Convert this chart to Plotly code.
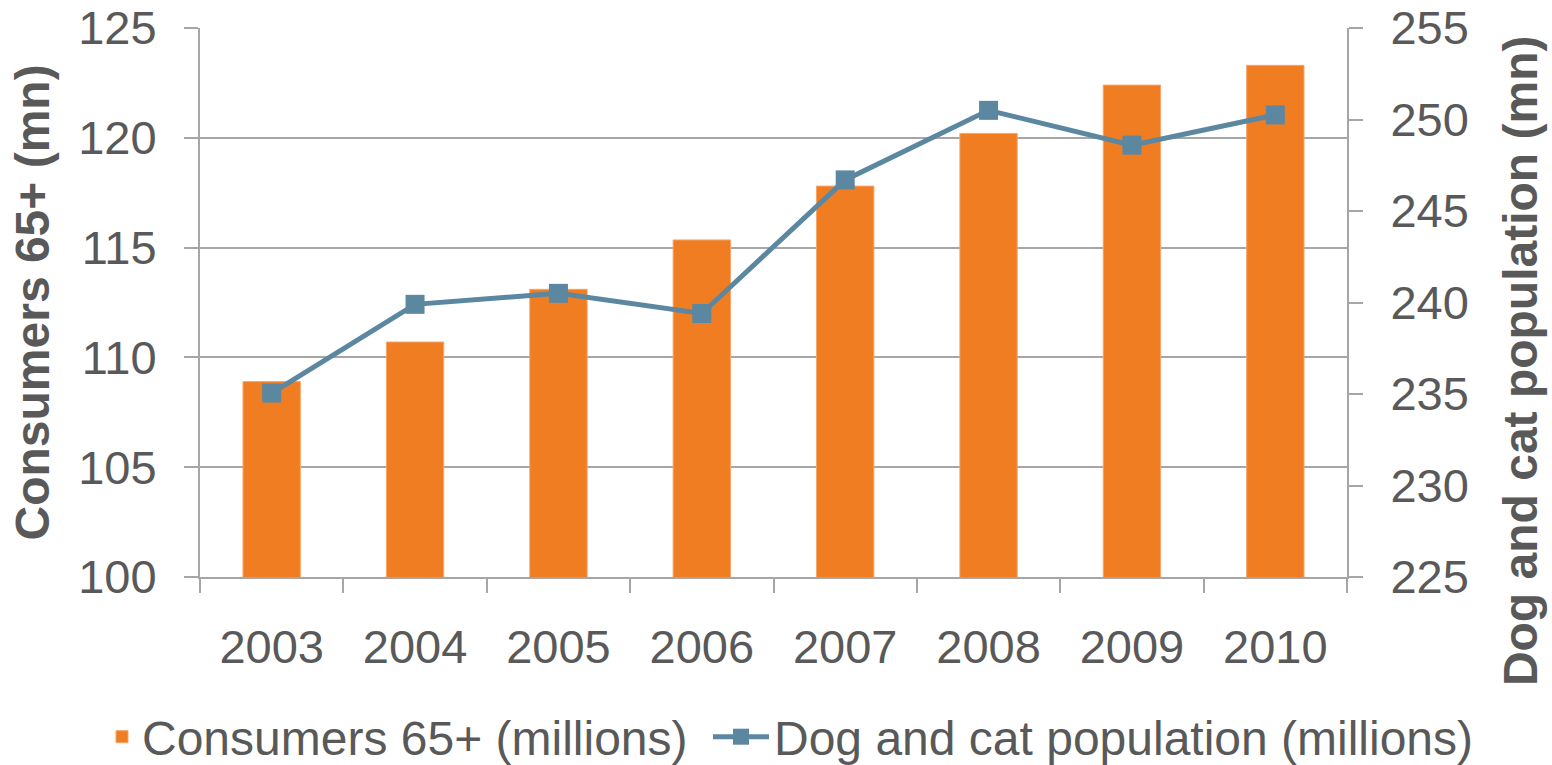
import plotly.graph_objects as go

years = ["2003", "2004", "2005", "2006", "2007", "2008", "2009", "2010"]
consumers_65 = [108.9, 110.7, 113.1, 115.35, 117.8, 120.2, 122.4, 123.3]
dog_cat_pop = [235.05, 239.9, 240.5, 239.4, 246.7, 250.5, 248.6, 250.25]

left_ticks = [100, 105, 110, 115, 120, 125]
right_ticks = [225, 230, 235, 240, 245, 250, 255]

ORANGE = "#F07D22"
BLUE = "#5B87A0"
TEXT = "#595959"
GRID = "#A6A6A6"
FONT = "Liberation Sans, Arial, sans-serif"

fig = go.Figure()
fig.add_trace(go.Bar(
    x=years, y=consumers_65, name="Consumers 65+ (millions)",
    marker=dict(color=ORANGE, line=dict(color="#F5A66A", width=1)),
    yaxis="y", legend="legend",
))
fig.add_trace(go.Scatter(
    x=years, y=dog_cat_pop, name="Dog and cat population (millions)",
    mode="lines+markers",
    line=dict(color=BLUE, width=5),
    marker=dict(symbol="square", size=19, color=BLUE),
    yaxis="y2", legend="legend2",
))

leg_common = dict(
    orientation="h", xref="paper", xanchor="left",
    yref="container", y=28 / 765, yanchor="middle",
    font=dict(size=48, color=TEXT, family=FONT),
    bgcolor="rgba(0,0,0,0)",
)

fig.update_layout(
    width=1552, height=765,
    margin=dict(l=200, r=205, t=28, b=188, autoexpand=False),
    paper_bgcolor="white", plot_bgcolor="white",
    font=dict(family=FONT, size=47, color=TEXT),
    bargap=0.6,
    showlegend=True,
    legend=dict(x=(102 - 200) / 1147, **leg_common),
    legend2=dict(x=(708 - 200) / 1147, itemwidth=56, **leg_common),
    xaxis=dict(
        type="category", automargin=False,
        showline=True, linecolor=GRID, linewidth=2,
        ticks="outside", tickson="boundaries", ticklen=14,
        tickcolor=GRID, tickwidth=2,
        showgrid=False,
        tickfont=dict(size=47, color=TEXT),
        ticklabelstandoff=28,
    ),
    yaxis=dict(
        range=[100, 125], tickvals=left_ticks, automargin=False,
        showline=True, linecolor=GRID, linewidth=2,
        ticks="outside", ticklen=14, tickcolor=GRID, tickwidth=2,
        showgrid=True, gridcolor=GRID, gridwidth=2,
        zeroline=False,
        tickfont=dict(size=47, color=TEXT),
        ticklabelstandoff=18,
    ),
    yaxis2=dict(
        range=[225, 255], tickvals=right_ticks, automargin=False,
        overlaying="y", side="right",
        showline=True, linecolor=GRID, linewidth=2,
        ticks="outside", ticklen=14, tickcolor=GRID, tickwidth=2,
        showgrid=False, zeroline=False,
        tickfont=dict(size=47, color=TEXT),
        ticklabelstandoff=18,
    ),
    annotations=[
        dict(text="<b>Consumers 65+ (mn)</b>", textangle=-90,
             xref="paper", yref="paper", x=-0.1456, y=0.50,
             xanchor="center", yanchor="middle", showarrow=False,
             font=dict(size=48, color=TEXT, family=FONT)),
        dict(text="<b>Dog and cat population (mn)</b>", textangle=-90,
             xref="paper", yref="paper", x=1.1508, y=0.395,
             xanchor="center", yanchor="middle", showarrow=False,
             font=dict(size=48, color=TEXT, family=FONT)),
    ],
)

fig.write_html("out.html")
